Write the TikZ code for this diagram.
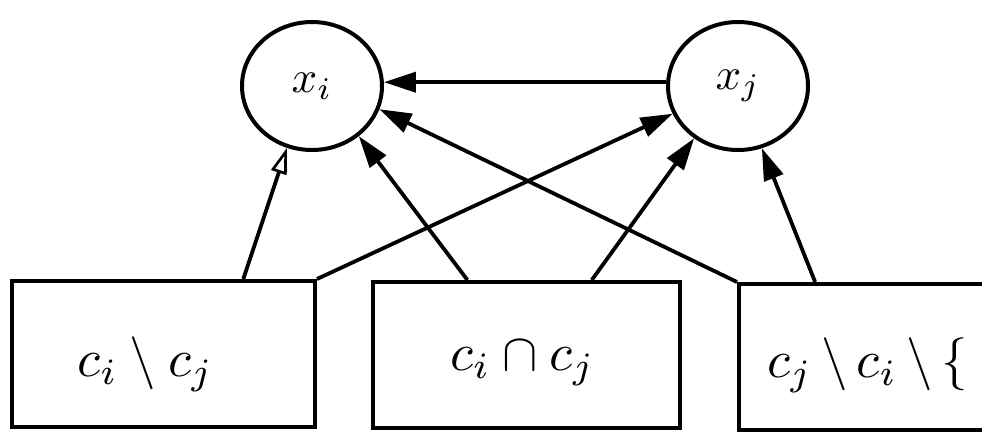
\documentclass[tikz,border=0pt]{standalone}
\usepackage{graphicx}
\usetikzlibrary{shapes.geometric,arrows.meta,calc}
\newcommand{\bigmath}[2]{\scalebox{#1}{$#2$}}
\begin{document}
\begin{tikzpicture}[x=1pt,y=-1pt,
  var/.style={ellipse,draw,line width=4pt,minimum width=140pt,minimum height=128pt,inner sep=0pt},
  setbox/.style={rectangle,draw,line width=4pt,minimum height=146pt,inner sep=0pt},
  settext/.style={inner sep=0pt},
  link/.style={line width=3.8pt,-{Triangle[length=32pt,width=20pt]}},
  openlink/.style={line width=3.8pt,-{Triangle[open,length=26pt,width=16pt,line width=2.6pt]}}]
\useasboundingbox (0,0) rectangle (982,431);
\clip (0,0) rectangle (982,431);

% variables
\node[var] (xi) at (312,86) {\bigmath{4.5}{x_i}};
\node[var] (xj) at (738,86) {\bigmath{4.5}{x_j}};

% cliques
\node[setbox,minimum width=303pt] (b1) at (163.5,354) {};
\node[setbox,minimum width=307pt] (b2) at (526.5,355) {};
\node[setbox,minimum width=275pt,anchor=north west] (b3) at (737,282) {};
\node[settext] (t1) at ($(b1.center)+(-18,10)$) {\bigmath{5.3}{c_i\setminus c_j}};
\node[settext] (t2) at ($(b2.center)+(-4,8)$) {\bigmath{5.3}{c_i\cap c_j}};
\node[settext,anchor=west] (t3) at ($(b3.west)+(30,8)$) {\bigmath{5.3}{c_j\,{\setminus}\,c_i\,{\setminus}\,\{}};

% start points on the box tops
\coordinate (s1) at ($(b1.north west)!0.76!(b1.north east)$);
\coordinate (s2) at ($(b2.north west)!0.31!(b2.north east)$);
\coordinate (s3) at ($(b2.north west)!0.71!(b2.north east)$);
\coordinate (s4) at ($(b3.north west)!0.28!(b3.north east)$);

% dependencies
\draw[link] (xj.177) -- (xi.3);
\draw[openlink] (s1) -- (xi.-112);
\draw[link] (b1.north east) -- (xj.-157);
\draw[link] (s2) -- (xi.-47);
\draw[link] (s3) -- (xj.-130);
\draw[link] (b3.north west) -- (xi.-19);
\draw[link] (s4) -- (xj.-69);
\end{tikzpicture}
\end{document}
